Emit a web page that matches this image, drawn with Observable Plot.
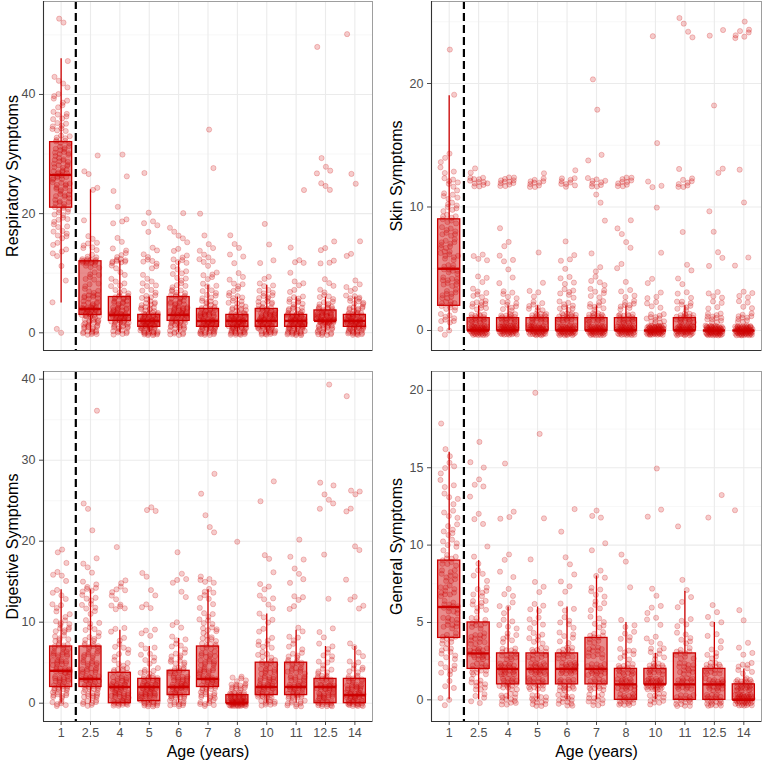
<!DOCTYPE html>
<html>
<head>
<meta charset="utf-8">
<script src="https://cdn.jsdelivr.net/npm/d3@7"></script>
<script src="https://cdn.jsdelivr.net/npm/@observablehq/plot@0.6"></script>
<style>
  html, body { margin: 0; padding: 0; background: #fff; }
  #chart { position: relative; width: 762px; height: 762px; background: #fff; }
  #chart > svg { position: absolute; }
</style>
</head>
<body>
<div id="chart"></div>
<script>
// Age groups (categorical x axis)
const ages = ["1", "2.5", "4", "5", "6", "7", "8", "10", "11", "12.5", "14"];

// Box summaries per age: [lower whisker, Q1, median, Q3, upper whisker]
const respiratoryBoxes = [
  [5, 21, 26.5, 32, 46], [0, 3, 4, 12, 24], [0, 2, 3, 6, 12], [0, 1, 2, 3, 6],
  [0, 2, 3, 6, 12], [0, 1, 2, 4, 8], [0, 1, 2, 3, 6], [0, 1, 2, 4, 8],
  [0, 1, 2, 3, 6], [0, 2, 2, 3.75, 6], [0, 1, 2, 3, 6]
];
const skinBoxes = [
  [0, 2, 5, 9, 19], [0, 0, 0, 1, 2], [0, 0, 0, 1, 2], [0, 0, 0, 1, 2],
  [0, 0, 0, 1, 2], [0, 0, 0, 1, 2], [0, 0, 0, 1, 2], [0, 0, 0, 0, 0],
  [0, 0, 0, 1, 2], [0, 0, 0, 0, 0], [0, 0, 0, 0, 0]
];
const digestiveBoxes = [
  [0, 2, 4, 7, 14], [0, 2, 3, 7, 14], [0, 0, 2, 3.75, 9], [0, 0.25, 2, 3, 7],
  [0, 1, 2, 4, 8], [0, 2, 3, 7, 14], [0, 0, 0, 1, 1], [0, 1, 2, 5, 11],
  [0, 1, 2, 5, 9], [0, 0, 2, 3, 7], [0, 0, 1, 3, 7]
];
const generalBoxes = [
  [0, 4, 6, 9, 16], [0, 2, 3, 5, 9], [0, 1, 2, 3, 6], [0, 1, 2, 3, 6],
  [0, 1, 2, 3, 6], [0, 1, 2, 4, 8], [0, 0, 1, 2, 5], [0, 1, 1, 2, 3],
  [0, 0, 1, 3, 7], [0, 0, 1, 2, 5], [0, 0, 0, 1, 2]
];

// Individual scores per age, written as "score:count"
const respiratoryScores = [
  "0:1 1:1 5:1 9:1 11:1 13:2 14:2 15:2 16:3 17:3 18:3 19:4 20:4 21:5 22:6 23:6 24:6 25:6 26:7 27:7 28:6 29:6 30:6 31:6 32:5 33:4 34:4 35:4 36:3 37:3 38:2 39:3 40:2 41:1 42:2 43:1 46:1 52:1 53:1",
  "0:10 1:10 2:10 3:14 4:16 5:7 6:8 7:4 8:3 9:3 10:3 11:4 12:14 13:3 14:3 15:3 16:2 19:1 24:2 27:2 30:1",
  "0:8 1:10 2:14 3:16 4:10 5:8 6:8 7:4 8:3 9:2 10:2 11:2 12:8 13:3 14:2 15:1 16:1 18:1 19:2 21:1 24:1 26:1 30:1",
  "0:16 1:18 2:20 3:14 4:8 5:6 6:5 7:3 8:3 9:2 10:1 11:2 12:4 13:2 14:2 17:1 18:2 19:1 20:1 27:1",
  "0:8 1:10 2:14 3:16 4:12 5:8 6:8 7:5 8:4 9:3 10:3 11:2 12:4 13:2 14:2 15:1 16:2 17:1 18:1 20:1",
  "0:14 1:16 2:18 3:14 4:9 5:6 6:4 7:3 8:3 9:2 10:3 11:1 12:3 13:2 14:2 15:1 16:1 20:1 28:1 34:1",
  "0:16 1:18 2:20 3:14 4:8 5:5 6:4 7:3 8:3 9:2 10:1 12:1 13:2 14:1 15:1 16:1",
  "0:14 1:16 2:18 3:14 4:10 5:6 6:5 7:4 8:3 9:2 12:2 15:1 18:1",
  "0:16 1:18 2:20 3:14 4:7 5:5 6:4 7:2 8:2 9:1 10:1 12:3 14:1 24:1",
  "0:10 1:12 2:24 3:16 4:10 5:5 6:4 7:2 8:2 9:1 12:3 14:2 15:1 24:1 25:2 27:2 28:1 29:1 48:1",
  "0:14 1:16 2:20 3:14 4:8 5:5 6:5 7:2 8:2 9:1 13:2 15:1 25:1 27:1 50:1"
];
const skinScores = [
  "0:3 1:8 2:10 3:9 4:10 5:10 6:9 7:9 8:8 9:8 10:7 11:6 12:6 13:3 14:3 19:1 23:1",
  "0:45 1:20 2:10 3:6 4:3 6:4 12:12 13:2",
  "0:45 1:20 2:8 3:5 4:2 5:1 6:3 7:2 8:1 12:12",
  "0:45 1:20 2:8 3:3 4:1 6:1 12:10 13:1",
  "0:45 1:20 2:8 3:6 4:4 5:1 6:3 7:1 12:9 13:1",
  "0:45 1:20 2:8 3:6 4:4 5:2 6:1 9:1 10:1 11:1 12:9 14:2 18:1 20:1",
  "0:45 1:20 2:8 3:4 4:1 5:2 7:2 8:2 9:1 12:10",
  "0:60 1:12 2:4 3:3 4:2 6:1 10:1 12:3 15:1 24:1",
  "0:45 1:20 2:8 3:3 4:2 5:2 8:1 12:8 13:1 24:2 25:2",
  "0:62 1:12 2:4 3:4 5:1 6:2 8:1 10:1 13:2 18:1 24:2",
  "0:62 1:10 2:4 3:4 5:1 6:1 10:1 13:1 24:6 25:1"
];
const digestiveScores = [
  "0:6 1:9 2:12 3:12 4:14 5:10 6:10 7:9 8:6 9:6 10:5 11:3 12:3 13:2 14:2 15:1 16:3 17:1 19:2",
  "0:8 1:10 2:12 3:14 4:10 5:8 6:8 7:8 8:5 9:4 10:3 11:2 12:4 13:4 14:5 15:2 16:1 17:2 18:1 21:1 24:1 25:1 36:1",
  "0:16 1:14 2:16 3:10 4:8 5:4 6:3 7:4 8:2 9:3 12:5 13:2 14:4 15:2 19:1",
  "0:16 1:16 2:18 3:12 4:6 5:3 6:3 7:3 8:1 9:3 12:3 13:1 14:1 16:2 24:3",
  "0:10 1:14 2:18 3:12 4:10 5:6 6:5 7:4 8:3 9:1 10:2 13:1 14:1 15:3 16:1 19:1",
  "0:8 1:10 2:12 3:14 4:10 5:9 6:8 7:8 8:6 9:6 10:4 11:3 12:2 13:3 14:3 15:4 16:1 21:1 22:1 23:1 26:1 28:1",
  "0:40 1:20 2:12 3:5 20:1",
  "0:10 1:14 2:16 3:10 4:9 5:8 6:5 7:4 8:3 9:2 10:2 11:2 12:2 13:3 14:2 15:1 16:1 18:2 25:1 27:1",
  "0:10 1:14 2:16 3:10 4:9 5:8 6:5 7:3 8:3 9:2 12:2 13:3 15:2 16:1 17:1 18:2 20:1",
  "0:16 1:14 2:18 3:10 4:5 5:4 6:3 7:3 8:1 9:2 13:1 18:1 24:1 25:2 26:1 27:2 39:1",
  "0:20 1:20 2:14 3:10 4:5 5:3 6:2 7:2 12:2 13:2 15:1 19:2 24:2 26:3 38:1"
];
const generalScores = [
  "0:3 1:3 2:7 3:8 4:10 5:11 6:12 7:10 8:10 9:9 10:6 11:6 12:4 13:4 14:3 15:4 16:2 18:1",
  "0:5 1:10 2:14 3:18 4:12 5:10 6:8 7:6 8:4 9:2 10:1 11:1 12:2 13:1 14:3 15:2 17:1",
  "0:14 1:18 2:22 3:14 4:6 5:5 6:4 7:3 8:2 9:2 12:3 15:1",
  "0:14 1:18 2:22 3:14 4:7 5:5 6:4 7:2 8:1 9:1 12:1 17:1 20:1",
  "0:14 1:18 2:22 3:14 4:6 5:5 6:3 7:2 8:2 9:2 11:1 12:1",
  "0:12 1:16 2:20 3:12 4:10 5:6 6:5 7:5 8:3 10:2 12:3",
  "0:20 1:22 2:18 3:8 4:5 5:3 7:1 9:2",
  "0:12 1:30 2:18 3:8 4:4 5:3 6:3 7:2 12:2 15:1",
  "0:18 1:20 2:14 3:10 4:6 5:4 6:2 7:2 8:1 11:1",
  "0:22 1:22 2:16 3:6 4:3 5:3 6:2 12:1 13:1",
  "0:40 1:26 2:8 3:3 4:1 5:1 6:1 12:1"
];

const RED = "#cd0000";
const FONT = "'Liberation Sans', Arial, Helvetica, sans-serif";

const frac = (v) => v - Math.floor(v);

// Expand "score:count" lists into points, spread with a fixed jitter
function toPoints(scoreLists) {
  const out = [];
  scoreLists.forEach((list, i) => {
    let k = 0;
    for (const token of list.trim().split(/\s+/)) {
      const [v, n] = token.split(":").map(Number);
      for (let j = 0; j < n; j++, k++) {
        const u = frac(0.5 + k * 0.7548776662 + i * 0.311);
        const w = frac(0.5 + k * 0.5698402910 + i * 0.173);
        out.push({x: i + (u - 0.5) * 0.6, y: v + (w - 0.5) * 0.8});
      }
    }
  });
  return out;
}

function toBoxes(rows) {
  return rows.map(([lo, q1, med, q3, hi], i) => ({i, lo, q1, med, q3, hi}));
}

const domainX = [-0.6, ages.length - 0.4];

function panel({title, scores, boxes, domain, major, minor, showX, left, top, width, height,
                marginLeft, marginRight, marginTop, marginBottom, titleDx}) {
  const pts = toPoints(scores);
  const bx = toBoxes(boxes);
  const marks = [
    Plot.gridY(minor, {stroke: "#f2f2f2", strokeOpacity: 1, strokeWidth: 0.6}),
    Plot.gridY(major, {stroke: "#ebebeb", strokeOpacity: 1, strokeWidth: 1.1}),
    Plot.gridX(d3.range(ages.length), {stroke: "#ebebeb", strokeOpacity: 1, strokeWidth: 1.1}),
    Plot.rect(bx, {x1: d => d.i - 0.375, x2: d => d.i + 0.375, y1: "q1", y2: "q3",
                   fill: RED, fillOpacity: 0.45}),
    Plot.dot(pts, {x: "x", y: "y", r: 2.6, fill: RED, fillOpacity: 0.2,
                   stroke: RED, strokeOpacity: 0.28, strokeWidth: 0.8}),
    Plot.rect(bx, {x1: d => d.i - 0.375, x2: d => d.i + 0.375, y1: "q1", y2: "q3",
                   fill: "none", stroke: RED, strokeWidth: 1.3}),
    Plot.ruleX(bx.filter(d => d.hi > d.q3), {x: "i", y1: "q3", y2: "hi", stroke: RED, strokeWidth: 1.3}),
    Plot.ruleX(bx.filter(d => d.lo < d.q1), {x: "i", y1: "lo", y2: "q1", stroke: RED, strokeWidth: 1.3}),
    Plot.ruleY(bx, {x1: d => d.i - 0.375, x2: d => d.i + 0.375, y: "med", stroke: RED, strokeWidth: 2.4}),
    Plot.ruleX([0.5], {stroke: "#000", strokeWidth: 2.2, strokeDasharray: "8,4"}),
    Plot.frame({stroke: "#9e9e9e", strokeWidth: 1}),
    Plot.ruleX([domainX[0]], {stroke: "#333", strokeWidth: 1.1}),
    Plot.ruleY([domain[0]], {stroke: "#333", strokeWidth: 1.1}),
    Plot.text([title], {frameAnchor: "left", rotate: -90, dx: titleDx, fontSize: 16,
                        textAnchor: "middle", lineAnchor: "middle", fill: "#000", text: d => d})
  ];
  if (showX) {
    marks.push(Plot.text(["Age (years)"], {frameAnchor: "bottom", dy: 30, fontSize: 16,
                                           textAnchor: "middle", lineAnchor: "middle",
                                           fill: "#000", text: d => d}));
  }
  const svg = Plot.plot({
    width, height, marginLeft, marginRight, marginTop, marginBottom,
    style: {fontFamily: FONT, fontSize: "12.5px", color: "#4d4d4d", background: "transparent", overflow: "visible"},
    x: {type: "linear", domain: domainX, axis: showX ? "bottom" : null,
        ticks: d3.range(ages.length), tickFormat: i => ages[i], tickSize: 4, tickPadding: 3, label: null},
    y: {domain, ticks: major, tickSize: 4, tickPadding: 4, label: null},
    marks
  });
  svg.style.left = left + "px";
  svg.style.top = top + "px";
  return svg;
}

const chart = document.getElementById("chart");

chart.append(panel({
  title: "Respiratory Symptoms", scores: respiratoryScores, boxes: respiratoryBoxes,
  domain: [-2.97, 55.6], major: [0, 20, 40], minor: [10, 30, 50], showX: false,
  left: 0, top: 0, width: 381, height: 360, marginLeft: 43, marginRight: 9, marginTop: 1, marginBottom: 10,
  titleDx: -31
}));
chart.append(panel({
  title: "Skin Symptoms", scores: skinScores, boxes: skinBoxes,
  domain: [-1.62, 26.64], major: [0, 10, 20], minor: [5, 15, 25], showX: false,
  left: 381, top: 0, width: 381, height: 360, marginLeft: 50, marginRight: 1, marginTop: 1, marginBottom: 10,
  titleDx: -35
}));
chart.append(panel({
  title: "Digestive Symptoms", scores: digestiveScores, boxes: digestiveBoxes,
  domain: [-2.26, 40.95], major: [0, 10, 20, 30, 40], minor: [5, 15, 25, 35], showX: true,
  left: 0, top: 360, width: 381, height: 402, marginLeft: 43, marginRight: 9, marginTop: 11, marginBottom: 41,
  titleDx: -31
}));
chart.append(panel({
  title: "General Symptoms", scores: generalScores, boxes: generalBoxes,
  domain: [-1.40, 21.22], major: [0, 5, 10, 15, 20], minor: [2.5, 7.5, 12.5, 17.5], showX: true,
  left: 381, top: 360, width: 381, height: 402, marginLeft: 50, marginRight: 1, marginTop: 11, marginBottom: 41,
  titleDx: -35
}));
</script>
</body>
</html>
